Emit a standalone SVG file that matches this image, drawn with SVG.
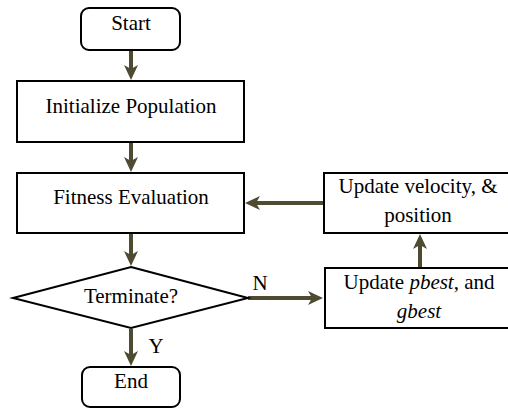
<svg xmlns="http://www.w3.org/2000/svg" width="508" height="410" viewBox="0 0 508 410">
<style>
.box{fill:#fff;stroke:#000;stroke-width:2}
.t{font-family:'Liberation Serif','Times New Roman',serif;font-size:21px;fill:#000;text-anchor:middle}
.c{stroke:#4f4b31;stroke-width:4;fill:none;marker-end:url(#ah)}
</style>
<defs>
<marker id="ah" markerUnits="userSpaceOnUse" markerWidth="16" markerHeight="16" refX="7" refY="7" orient="auto">
<path d="M0,0 L15,7 L0,14 L4,7 Z" fill="#4f4b31"/>
</marker>
</defs>
<rect width="508" height="410" fill="#fff"/>
<g id="connectors">
<line class="c" x1="131" y1="50" x2="131" y2="72"/>
<line class="c" x1="131" y1="142" x2="131" y2="164"/>
<line class="c" x1="131" y1="233" x2="131" y2="258"/>
<line class="c" x1="131" y1="329" x2="131" y2="358"/>
<line class="c" x1="248" y1="298" x2="315" y2="298"/>
<line class="c" x1="420" y1="268" x2="420" y2="242"/>
<line class="c" x1="323" y1="203" x2="253" y2="203"/>
<text class="t" x="156" y="353">Y</text>
<text class="t" x="260" y="290">N</text>
</g>
<g id="start">
<rect class="box" x="81" y="8" width="99" height="42" rx="8"/>
<text class="t" x="131" y="30">Start</text>
</g>
<g id="init">
<rect class="box" x="17" y="81" width="227" height="61"/>
<text class="t" x="131" y="113">Initialize Population</text>
</g>
<g id="fitness">
<rect class="box" x="17" y="173" width="227" height="60"/>
<text class="t" x="131" y="204">Fitness Evaluation</text>
</g>
<g id="terminate">
<polygon class="box" points="131,267 248,298 131,328 13,298"/>
<text class="t" x="131" y="303">Terminate?</text>
</g>
<g id="end">
<rect class="box" x="82" y="367" width="98" height="40" rx="8"/>
<text class="t" x="131" y="388">End</text>
</g>
<g id="velocity">
<rect class="box" x="324" y="173" width="190" height="60"/>
<text class="t" x="418" y="193">Update velocity, &amp;</text>
<text class="t" x="418" y="222">position</text>
</g>
<g id="pbest">
<rect class="box" x="325" y="268" width="190" height="60"/>
<text class="t" x="419" y="289">Update <tspan font-style="italic">pbest</tspan>, and</text>
<text class="t" x="419" y="318" font-style="italic">gbest</text>
</g>
</svg>
